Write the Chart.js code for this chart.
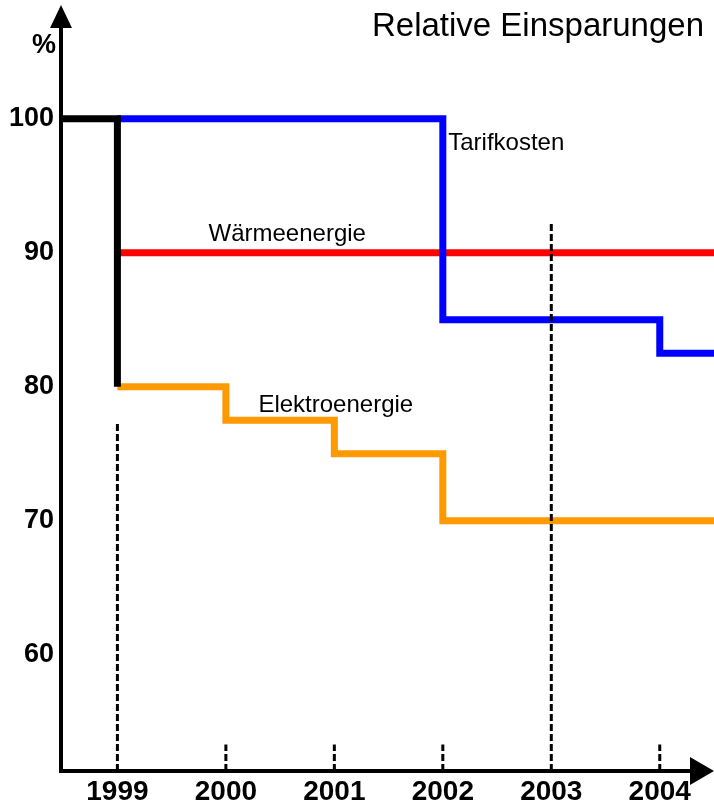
<!DOCTYPE html>
<html>
<head>
<meta charset="utf-8">
<script src="https://cdn.jsdelivr.net/npm/chart.js@4/dist/chart.umd.min.js"></script>
<style>
    html, body { margin: 0; padding: 0; background: #fff; }
    #wrap { width: 714px; height: 807px; }
</style>
</head>
<body>
<div id="wrap"><canvas id="chart" width="714" height="807"></canvas></div>
<script>
// Axis range
const xMin = 1998.48;
const xMax = 2004.5;
const yMin = 51.32;
const yMax = 108.5;

// Tick labels
const xTickYears = [1999, 2000, 2001, 2002, 2003, 2004];
const yTickValues = [60, 70, 80, 90, 100];

// Series (step lines: value holds until the next year)
const startYears = [1998.48, 1999];
const startValues = [100, 80];

const tarifYears = [1999, 2002, 2004, 2004.5];
const tarifValues = [100, 85, 82.5, 82.5];

const waermeYears = [1999, 2004.5];
const waermeValues = [90, 90];

const elektroYears = [1999, 2000, 2001, 2002, 2004.5];
const elektroValues = [80, 77.5, 75, 70, 70];

// Dashed year markers: top value of each marker line
const markerYears = [1999, 2000, 2001, 2002, 2003, 2004];
const markerTops = [77.4, 53.3, 53.3, 53.3, 92.2, 53.3];

// Series labels placed in data coordinates
const seriesLabels = [
    { text: 'Tarifkosten', x: 2002.05, y: 97.66 },
    { text: 'Wärmeenergie', x: 1999.84, y: 90.87 },
    { text: 'Elektroenergie', x: 2000.3, y: 78.1 }
];

const toPoints = (xs, ys) => xs.map((x, i) => ({ x: x, y: ys[i] }));

const markerPoints = [];
markerYears.forEach((yr, i) => {
    markerPoints.push({ x: yr, y: yMin });
    markerPoints.push({ x: yr, y: markerTops[i] });
    markerPoints.push({ x: yr, y: null });
});

const FONT = '"Liberation Sans", Arial, Helvetica, sans-serif';

const lineStyle = (color) => ({
    borderColor: color,
    backgroundColor: color,
    borderWidth: 7,
    borderCapStyle: 'butt',
    borderJoinStyle: 'miter',
    pointRadius: 0,
    fill: false,
    stepped: true
});

// Axes with arrows, title and series labels
const decorPlugin = {
    id: 'decor',
    afterDatasetsDraw(chart) {
        const ctx = chart.ctx;
        const area = chart.chartArea;
        const xs = chart.scales.x;
        const ys = chart.scales.y;
        ctx.save();

        // series labels
        ctx.fillStyle = '#000';
        ctx.font = '24px ' + FONT;
        ctx.textAlign = 'left';
        ctx.textBaseline = 'alphabetic';
        seriesLabels.forEach(l => {
            ctx.fillText(l.text, xs.getPixelForValue(l.x), ys.getPixelForValue(l.y));
        });

        // axis lines
        ctx.strokeStyle = '#000';
        ctx.lineWidth = 4;
        ctx.beginPath();
        ctx.moveTo(area.left, area.bottom + 2);
        ctx.lineTo(area.left, area.top + 22);
        ctx.moveTo(area.left - 2, area.bottom);
        ctx.lineTo(area.right - 22, area.bottom);
        ctx.stroke();

        // arrow heads
        ctx.fillStyle = '#000';
        ctx.beginPath();
        ctx.moveTo(area.left, area.top);
        ctx.lineTo(area.left - 11, area.top + 23);
        ctx.lineTo(area.left + 11, area.top + 23);
        ctx.closePath();
        ctx.fill();
        ctx.beginPath();
        ctx.moveTo(area.right, area.bottom);
        ctx.lineTo(area.right - 24, area.bottom - 14);
        ctx.lineTo(area.right - 24, area.bottom + 14);
        ctx.closePath();
        ctx.fill();

        // unit and title
        ctx.font = 'bold 27px ' + FONT;
        ctx.textAlign = 'left';
        ctx.fillText('%', 32, 53);
        ctx.font = '33px ' + FONT;
        ctx.textAlign = 'right';
        ctx.fillText('Relative Einsparungen', 704, 36);

        ctx.restore();
    }
};

new Chart(document.getElementById('chart'), {
    type: 'line',
    data: {
        datasets: [
            {
                data: markerPoints,
                borderColor: '#000',
                borderWidth: 3,
                borderDash: [7, 3],
                pointRadius: 0,
                spanGaps: false,
                fill: false
            },
            { data: toPoints(startYears, startValues), ...lineStyle('#000000') },
            { data: toPoints(tarifYears, tarifValues), ...lineStyle('#0000ff') },
            { data: toPoints(elektroYears, elektroValues), ...lineStyle('#ff9900') },
            { data: toPoints(waermeYears, waermeValues), ...lineStyle('#ff0000') }
        ]
    },
    options: {
        responsive: false,
        animation: false,
        events: [],
        layout: { padding: { top: 5, right: 0, left: 0, bottom: 0 } },
        plugins: {
            legend: { display: false },
            tooltip: { enabled: false }
        },
        scales: {
            x: {
                type: 'linear',
                min: xMin,
                max: xMax,
                afterFit: s => {
                    s.height = 36;
                    s.paddingLeft = 0;
                    s.paddingRight = 0;
                },
                afterBuildTicks: s => { s.ticks = xTickYears.map(v => ({ value: v })); },
                grid: { display: false, drawTicks: false },
                border: { display: false },
                ticks: {
                    padding: 4,
                    color: '#000',
                    font: { family: FONT, size: 28, weight: 'bold' },
                    maxRotation: 0,
                    autoSkip: false,
                    callback: v => String(v)
                }
            },
            y: {
                type: 'linear',
                min: yMin,
                max: yMax,
                afterFit: s => {
                    s.width = 61;
                    s.paddingTop = 0;
                    s.paddingBottom = 0;
                },
                afterBuildTicks: s => { s.ticks = yTickValues.map(v => ({ value: v })); },
                grid: { display: false, drawTicks: false },
                border: { display: false },
                ticks: {
                    padding: 7,
                    color: '#000',
                    font: { family: FONT, size: 27, weight: 'bold' },
                    autoSkip: false,
                    callback: v => String(v)
                }
            }
        }
    },
    plugins: [decorPlugin]
});
</script>
</body>
</html>
